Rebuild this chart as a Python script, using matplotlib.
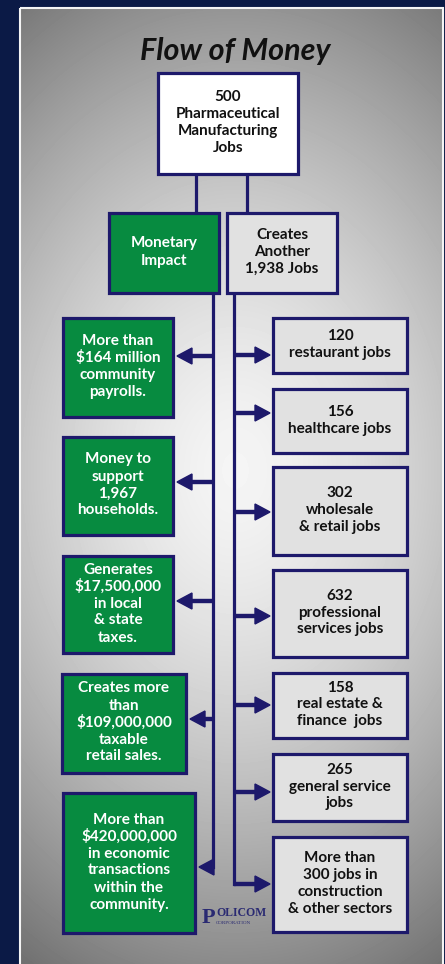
import numpy as np
import matplotlib.pyplot as plt
from matplotlib.patches import Rectangle

# chart text
title = "Flow of Money"
top_label = ["500", "Pharmaceutical", "Manufacturing", "Jobs"]
branch_labels = [["Monetary", "Impact"], ["Creates", "Another", "1,938 Jobs"]]
money_labels = [
    ["More than", "$164 million", "community", "payrolls."],
    ["Money to", "support", "1,967", "households."],
    ["Generates", "$17,500,000", "in local", "& state", "taxes."],
    ["Creates more", "than", "$109,000,000", "taxable", "retail sales."],
    ["More than", "$420,000,000", "in economic", "transactions", "within the", "community."],
]
job_labels = [
    ["120", "restaurant jobs"],
    ["156", "healthcare jobs"],
    ["302", "wholesale", "& retail jobs"],
    ["632", "professional", "services jobs"],
    ["158", "real estate &", "finance  jobs"],
    ["265", "general service", "jobs"],
    ["More than", "300 jobs in", "construction", "& other sectors"],
]

# layout in pixel coordinates (x0, x1, y0, y1)
top_box = (158, 298, 73, 174)
branch_boxes = [(109, 219, 213, 293), (227, 337, 213, 293)]
money_boxes = [(63, 173, 318, 417), (63, 173, 437, 535), (63, 173, 556, 653),
               (62, 186, 674, 773), (63, 195, 793, 933)]
money_arrow_y = [356, 482, 601, 719, 867]
job_boxes = [(273, 407, 318, 373), (273, 407, 389, 453), (273, 407, 467, 555),
             (273, 407, 570, 657), (273, 407, 673, 738), (273, 407, 754, 821),
             (273, 407, 837, 932)]
job_arrow_y = [355, 413, 512, 616, 705, 792, 884]
left_trunk, right_trunk = 213, 234

navy = '#1d196b'
green = '#078b40'
light = '#e1e1e1'
plt.rcParams['font.family'] = ['Lato', 'DejaVu Sans']

fig = plt.figure(figsize=(4.45, 9.64), dpi=100, facecolor='#0b1a46')
ax = fig.add_axes([0, 0, 1, 1])
ax.set_xlim(0, 445)
ax.set_ylim(964, 0)
ax.axis('off')

# grey panel with soft radial light
yy, xx = np.mgrid[8:964, 20:443]
d = np.sqrt(((xx - 235) / 350.0) ** 2 + ((yy - 470) / 480.0) ** 2)
shade = np.clip(0.96 - 0.4 * d ** 1.5, 0, 1)
ax.imshow(shade, cmap='gray', vmin=0, vmax=1, extent=(20, 443, 964, 8),
          aspect='auto', zorder=0)
ax.add_patch(Rectangle((20, 8), 423, 960, fill=False, ec='#f4f4f4', lw=1.5, zorder=1))

ax.text(235, 51, title, ha='center', va='center', fontsize=22,
        fontweight='bold', fontstyle='italic', color='#111111')


def box(b, lines, fc, tc, step=17):
    x0, x1, y0, y1 = b
    ax.add_patch(Rectangle((x0, y0), x1 - x0, y1 - y0, fc=fc, ec=navy, lw=2.3, zorder=3))
    cx, cy = (x0 + x1) / 2, (y0 + y1) / 2 - 1
    n = len(lines)
    for i, s in enumerate(lines):
        ax.text(cx, cy + (i - (n - 1) / 2) * step, s, ha='center', va='center',
                fontsize=11, fontweight='bold', color=tc, zorder=4)


# connectors
for x in (196, 247):
    ax.plot([x, x], [top_box[3], branch_boxes[0][2]], color=navy, lw=2.3, zorder=2)
ax.plot([left_trunk, left_trunk], [293, money_arrow_y[-1]], color=navy, lw=2.3,
        zorder=2, solid_capstyle='projecting')
ax.plot([right_trunk, right_trunk], [293, job_arrow_y[-1]], color=navy, lw=2.3,
        zorder=2, solid_capstyle='projecting')

for b, y in zip(money_boxes, money_arrow_y):
    ax.arrow(left_trunk, y, (b[1] + 4) - left_trunk, 0, width=3, head_width=16,
             head_length=15, length_includes_head=True, color=navy, zorder=2)
for b, y in zip(job_boxes, job_arrow_y):
    ax.arrow(right_trunk, y, (b[0] - 3) - right_trunk, 0, width=3, head_width=16,
             head_length=15, length_includes_head=True, color=navy, zorder=2)

box(top_box, top_label, 'white', '#111111')
box(branch_boxes[0], branch_labels[0], green, 'white')
box(branch_boxes[1], branch_labels[1], light, '#111111')
for b, lab in zip(money_boxes, money_labels):
    box(b, lab, green, 'white')
for b, lab in zip(job_boxes, job_labels):
    box(b, lab, light, '#111111')

# logo
ax.text(202, 918, "P", ha='left', va='center', fontsize=16, family='Liberation Serif',
        fontweight='bold', color='#2a2a72')
ax.text(216, 913, "OLICOM", ha='left', va='center', fontsize=8.5,
        family='Liberation Serif', fontweight='bold', color='#2a2a72')
ax.text(216, 922.5, "CORPORATION", ha='left', va='center', fontsize=3.6,
        family='Liberation Serif', color='#2a2a72')

fig.savefig('out.png', dpi=100, facecolor=fig.get_facecolor())
